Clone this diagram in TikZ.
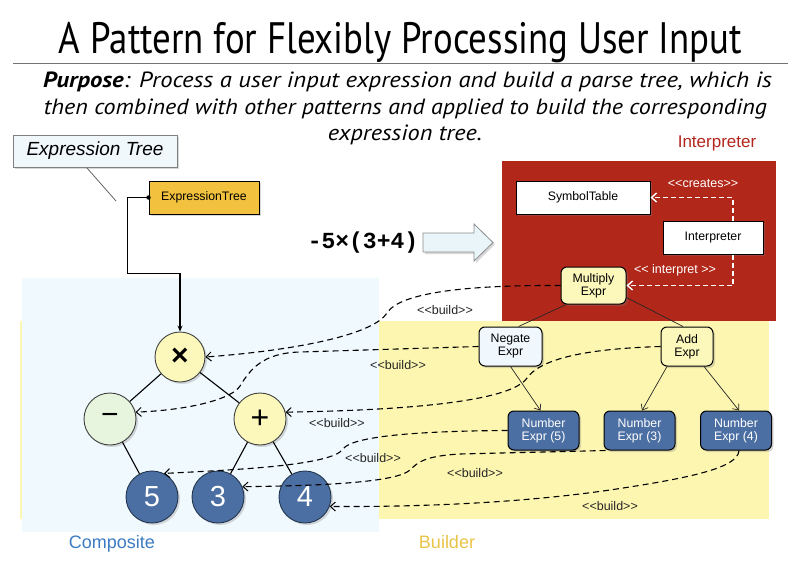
\documentclass[tikz,border=0pt]{standalone}
\usepackage{fontspec}
\usepackage{graphicx}
\setmainfont{Liberation Sans}
\newfontfamily\titlefont{PT Sans}
\newfontfamily\codefont{Liberation Mono}
\usetikzlibrary{arrows.meta,shadows}
\definecolor{compbg}{HTML}{F0F9FD}
\definecolor{builderbg}{HTML}{FDF6B0}
\definecolor{redbg}{HTML}{B1281A}
\definecolor{nodeyellow}{HTML}{FCF8BC}
\definecolor{nodegreen}{HTML}{E8F5DE}
\definecolor{numblue}{HTML}{4C6FA3}
\definecolor{numborder}{HTML}{22354F}
\definecolor{etgold}{HTML}{F2C23F}
\definecolor{negfill}{HTML}{F1F8FD}
\definecolor{calfill}{HTML}{F1F8FC}
\definecolor{arrowfill}{HTML}{EAF5FA}
\definecolor{compblue}{HTML}{3C7CC2}
\definecolor{buildgold}{HTML}{E9C446}
\definecolor{interpred}{HTML}{B3261E}
\newcommand\buildtxt{<\kern0pt<build>\kern0pt>}
\begin{document}
\begin{tikzpicture}[x=1pt,y=-1pt,
  shad/.style={drop shadow={shadow xshift=2pt,shadow yshift=-2pt,opacity=0.3}},
  box/.style={draw=black,line width=1pt,inner sep=0pt,align=center,font=\fontsize{12.3}{13}\selectfont,shad},
  rbox/.style={box,rounded corners=6pt},
  circ/.style={circle,draw=black!75,line width=0.9pt,minimum size=52pt,inner sep=0pt,shad},
  numcirc/.style={circ,fill=numblue,draw=numborder,text=white,font=\fontsize{29}{29}\selectfont},
  treeedge/.style={line width=1.1pt,black},
  thinedge/.style={line width=0.7pt,black!85},
  thinarrow/.style={thinedge,-{Straight Barb[length=5pt,width=8pt,line width=0.7pt]}},
  build/.style={line width=1.1pt,dash pattern=on 6pt off 4pt,-{Straight Barb[length=5pt,width=9pt,line width=1pt]}},
  wdash/.style={white,line width=1.6pt,dash pattern=on 5pt off 3pt,-{Straight Barb[length=5pt,width=9pt,line width=1.4pt]}},
  blabel/.style={font=\fontsize{12.5}{13}\selectfont,text=black!85,inner sep=0pt},
  ]
\fill[white] (0,0) rectangle (800,575);
\useasboundingbox (0,0) rectangle (800,575);

% title and purpose
\node[anchor=base,inner sep=0pt] (title) at (400.5,54) {\resizebox{683pt}{\height}{\titlefont\fontsize{44}{44}\selectfont A Pattern for Flexibly Processing User Input}};
\draw[black!55,line width=0.8pt] (13,63) -- (788,63);
\node[anchor=base,inner sep=0pt] (p1) at (407.5,88) {\resizebox{729pt}{\height}{\titlefont\itshape\fontsize{22}{22}\selectfont\textbf{Purpose}: Process a user input expression and build a parse tree, which is}};
\node[anchor=base,inner sep=0pt] (p2) at (405.5,114) {\resizebox{723pt}{\height}{\titlefont\itshape\fontsize{22}{22}\selectfont then combined with other patterns and applied to build the corresponding}};
\node[anchor=base,inner sep=0pt] (p3) at (405,140) {\resizebox{154pt}{\height}{\titlefont\itshape\fontsize{22}{22}\selectfont expression tree.}};

% regions
\fill[builderbg] (20,321) rectangle (769,519);
\fill[compbg] (22,278) rectangle (379,532);
\fill[redbg] (502,161) rectangle (776,321);

% callout
\node[draw=black!50,fill=calfill,line width=0.8pt,minimum width=164pt,minimum height=32pt,inner sep=0pt,font=\itshape\fontsize{19}{19}\selectfont,shad] (callout) at (95,151) {Expression Tree};
\coordinate (cp1) at (87,168);
\coordinate (cp2) at (116,201);
\draw[black!60,line width=0.8pt] (cp1) -- (cp2);

\node[box,fill=etgold,minimum width=110pt,minimum height=33pt] (etree) at (204,197.5) {ExpressionTree};

% input expression
\node[font=\codefont\bfseries\fontsize{23}{23}\selectfont,inner sep=0pt] (expr) at (363,243) {-5×(3+4)};
\draw[fill=arrowfill,draw=black!45,line width=0.8pt,shad] (423,233) -- (474,233) -- (474,224) -- (493,242.5) -- (474,261) -- (474,252) -- (423,252) -- cycle;

% interpreter
\node[text=interpred,font=\fontsize{17}{17}\selectfont,inner sep=0pt] (interplbl) at (717,143) {Interpreter};
\node[box,fill=white,minimum width=134pt,minimum height=33pt] (symtab) at (583,197.5) {SymbolTable};
\node[box,fill=white,minimum width=100pt,minimum height=33pt] (interp) at (713,237.5) {Interpreter};
\node[rbox,fill=nodeyellow,minimum width=65pt,minimum height=37pt] (mult) at (593.5,285.5) {Multiply\\Expr};
\draw[wdash] ([xshift=20pt]interp.north) |- (symtab.east);
\draw[wdash] ([xshift=20pt]interp.south) |- (mult.east);
\node[font=\fontsize{12.5}{13}\selectfont,text=white,inner sep=0pt] (creates) at (703,184) {<\kern0pt<creates>\kern0pt>};
\node[font=\fontsize{12.5}{13}\selectfont,text=white,inner sep=0pt] (interpretlbl) at (675,270) {<\kern0pt< interpret >\kern0pt>};

% composite tree
\node[circ,fill=nodeyellow,minimum size=50pt,font=\bfseries\fontsize{30}{30}\selectfont] (times) at (180,357) {×};
\node[circ,fill=nodegreen,font=\fontsize{30}{30}\selectfont] (neg) at (110,419) {−};
\node[circ,fill=nodeyellow,font=\fontsize{32}{32}\selectfont] (plus) at (260,419) {+};
\node[numcirc] (n5) at (152,497) {5};
\node[numcirc] (n3) at (218,497) {3};
\node[numcirc] (n4) at (305,497) {4};
\draw[treeedge] (times) -- (neg);
\draw[treeedge] (times) -- (plus);
\draw[treeedge] (neg) -- (n5);
\draw[treeedge] (plus) -- (n3);
\draw[treeedge] (plus) -- (n4);
\draw[line width=1.1pt,-{Stealth[length=6pt,width=5pt]}] (etree.west) -- ++(-21,0) -- ++(0,76) -| (times.north);
\fill (etree.west) circle (2.2pt);

% builder tree
\node[rbox,fill=negfill,minimum width=63pt,minimum height=39pt] (negate) at (510.5,346.5) {Negate\\Expr};
\node[rbox,fill=nodeyellow,minimum width=52pt,minimum height=39pt] (add) at (687,346.5) {Add\\Expr};
\node[rbox,fill=numblue,text=white,minimum width=71pt,minimum height=39pt] (ne5) at (543.5,430.5) {Number\\Expr (5)};
\node[rbox,fill=numblue,text=white,minimum width=71pt,minimum height=39pt] (ne3) at (639.5,430.5) {Number\\Expr (3)};
\node[rbox,fill=numblue,text=white,minimum width=71pt,minimum height=39pt] (ne4) at (736,430.5) {Number\\Expr (4)};
\draw[thinedge] (mult.-145) -- ([xshift=8pt]negate.north);
\draw[thinedge] (mult.-20) -- ([xshift=-4pt]add.north);
\draw[thinarrow] (negate.south) -- ([xshift=-3pt]ne5.north);
\draw[thinarrow] ([xshift=-20pt]add.south) -- ([xshift=2.5pt]ne3.north);
\draw[thinarrow] ([xshift=17pt]add.south) -- ([xshift=3pt]ne4.north);

% build connectors
\draw[build] (mult.west) .. controls (470,285) and (400,292) .. (387,313) .. controls (374,334) and (300,350) .. (times.east);
\draw[build] (negate.west) -- (300,352) .. controls (262,353) and (250,370) .. (240,386) .. controls (232,399) and (190,410) .. (neg.15);
\draw[build] (add.west) .. controls (580,349) and (540,360) .. (527,378) .. controls (512,400) and (420,410) .. (plus.15);
\draw[build] (ne5.west) .. controls (420,431) and (352,436) .. (343,449) .. controls (332,466) and (230,470) .. (n5.63);
\draw[build] ([xshift=2pt]ne3.south west) -- (460,454) .. controls (425,456) and (418,462) .. (410,470) .. controls (395,484) and (300,486) .. (n3.23);
\draw[build] ([xshift=3pt]ne4.south) .. controls (738,468) and (690,478) .. (610,490) .. controls (520,503) and (420,507) .. (n4.-21);
\node[blabel] (bA) at (445,310) {\buildtxt};
\node[blabel] (bB) at (398,365) {\buildtxt};
\node[blabel] (bC) at (337,423) {\buildtxt};
\node[blabel] (bD) at (373,458) {\buildtxt};
\node[blabel] (bE) at (475,473) {\buildtxt};
\node[blabel] (bF) at (610,506) {\buildtxt};

% region labels
\node[text=compblue,font=\fontsize{18}{18}\selectfont,inner sep=0pt] (complbl) at (112,544) {Composite};
\node[text=buildgold,font=\fontsize{18}{18}\selectfont,inner sep=0pt] (buildlbl) at (447,542) {Builder};
\end{tikzpicture}
\end{document}
